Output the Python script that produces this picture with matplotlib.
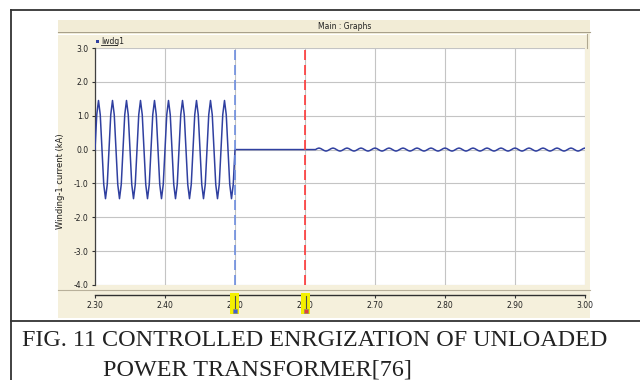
import numpy as np
import matplotlib
matplotlib.use("Agg")
import matplotlib.pyplot as plt
from matplotlib.patches import Rectangle
from matplotlib.lines import Line2D

# ---- data ----
sample_step = 0.0025                     # s between samples
wave_start = 2.30                        # s
wave_cycle = [0.0, 1.03, 1.45, 1.03, 0.0, -1.03, -1.45, -1.03]   # kA, one 50 Hz cycle
wave_cycles = 10
switch_off_time = 2.50                   # blue marker
switch_on_time = 2.60                    # red marker
ripple_start = 2.615
ripple_end = 3.00
ripple_cycle = [0.0, 0.03, 0.045, 0.03, 0.0, -0.03, -0.045, -0.03]  # kA
x_ticks = [2.30, 2.40, 2.50, 2.60, 2.70, 2.80, 2.90, 3.00]
x_labels = ["2.30", "2.40", "2.50", "2.60", "2.70", "2.80", "2.90", "3.00"]
y_ticks = [3.0, 2.0, 1.0, 0.0, -1.0, -2.0, -3.0, -4.0]
y_labels = ["3.0", "2.0", "1.0", "0.0", "-1.0", "-2.0", "-3.0", "-4.0"]
series_name = "Iwdg1"
y_title = "Winding-1 current (kA)"
panel_title = "Main : Graphs"
caption_1 = "FIG. 11 CONTROLLED ENRGIZATION OF UNLOADED"
caption_2 = "POWER TRANSFORMER[76]"

# ---- build series ----
wave_vals = np.tile(wave_cycle, wave_cycles).tolist() + [0.0]
wave_t = wave_start + sample_step * np.arange(len(wave_vals))
n_rip = int(round((ripple_end - ripple_start) / sample_step)) + 1
rip_vals = np.tile(ripple_cycle, n_rip // len(ripple_cycle) + 1)[:n_rip]
rip_t = ripple_start + sample_step * np.arange(n_rip)
t = np.concatenate([wave_t, rip_t])
v = np.concatenate([wave_vals, rip_vals])

W, H = 640, 380
fig = plt.figure(figsize=(W / 100, H / 100), dpi=100)
fig.patch.set_facecolor("white")

def fx(px):
    return px / W

def fy(py):
    return 1 - py / H

panel = "#F5F0DC"
# panel background
fig.patches.append(Rectangle((fx(58), fy(318)), fx(590 - 58), (318 - 20) / H,
                             transform=fig.transFigure, facecolor=panel,
                             edgecolor="none", zorder=-2))
# title bar
fig.patches.append(Rectangle((fx(58), fy(32)), fx(590 - 58), (32 - 20) / H,
                             transform=fig.transFigure, facecolor="#F2ECD6",
                             edgecolor="none", zorder=-1))
fig.lines.append(Line2D([fx(58), fx(590)], [fy(32), fy(32)], transform=fig.transFigure,
                        color="#A8A08A", lw=0.8, zorder=-1))
fig.lines.append(Line2D([fx(58), fx(587)], [fy(34), fy(34)], transform=fig.transFigure,
                        color="white", lw=0.8, zorder=-1))
fig.lines.append(Line2D([fx(587), fx(587)], [fy(34), fy(48)], transform=fig.transFigure,
                        color="#B0A890", lw=0.8, zorder=-1))
fig.lines.append(Line2D([fx(58), fx(590)], [fy(290), fy(290)], transform=fig.transFigure,
                        color="#B8B09A", lw=0.8, zorder=-1))
fig.text(fx(345), fy(26.5), panel_title, fontsize=5.5, ha="center", va="center",
         family=["Liberation Sans Narrow", "DejaVu Sans"], color="#202020")

# outer border and caption divider
fig.lines.append(Line2D([fx(11), fx(11)], [fy(10), 0], transform=fig.transFigure,
                        color="#333333", lw=1.3))
fig.lines.append(Line2D([fx(11), 1], [fy(10), fy(10)], transform=fig.transFigure,
                        color="#333333", lw=1.3))
fig.lines.append(Line2D([fx(11), 1], [fy(320.5), fy(320.5)], transform=fig.transFigure,
                        color="#333333", lw=1.3))

ax = fig.add_axes([fx(95), fy(285), fx(585 - 95), (285 - 48) / H])
ax.set_facecolor("white")
ax.plot(t, v, color="#3040A0", lw=1.1, zorder=3)
ax.axvline(switch_off_time, color="#6E8EE0", lw=1.2, ls=(0, (6, 3)), zorder=4)
ax.axvline(switch_on_time, color="#FF3838", lw=1.2, ls=(0, (6, 3)), zorder=4)

ax.set_xlim(2.30, 3.00)
ax.set_ylim(-4.0, 3.0)
ax.set_xticks(x_ticks)
ax.set_xticklabels(x_labels)
ax.set_yticks(y_ticks)
ax.set_yticklabels(y_labels)
ax.grid(True, color="#C4C4C4", lw=0.8)
ax.set_axisbelow(True)
for s in ["top", "right"]:
    ax.spines[s].set_visible(False)
ax.spines["left"].set_color("#404040")
ax.spines["left"].set_linewidth(0.9)
ax.spines["bottom"].set_position(("outward", 7.2))
ax.spines["bottom"].set_color("#303030")
ax.spines["bottom"].set_linewidth(1.0)
narrow = ["Liberation Sans Narrow", "DejaVu Sans"]
ax.tick_params(axis="both", length=2.5, width=0.8, color="#303030", labelsize=5.5,
               pad=2)
for lab in ax.get_xticklabels() + ax.get_yticklabels():
    lab.set_family(narrow)
    lab.set_color("#202020")
ax.set_ylabel(y_title, fontsize=6, family=narrow, color="#202020")
ax.yaxis.set_label_coords(-0.061, 0.44)

# legend in header band
fig.patches.append(Rectangle((fx(96), fy(43)), fx(3), 3 / H, transform=fig.transFigure,
                             facecolor="#3040A0", edgecolor="none"))
fig.text(fx(101), fy(41), series_name, fontsize=5.5, family=narrow, va="center",
         color="#202020")
fig.lines.append(Line2D([fx(101), fx(117)], [fy(45), fy(45)], transform=fig.transFigure,
                        color="#202020", lw=0.6))

# yellow cursor markers on the x axis
for xm, sq in [(230, "#4060D0"), (301, "#E04040")]:
    fig.patches.append(Rectangle((fx(xm), fy(314)), fx(9), (314 - 293) / H,
                                 transform=fig.transFigure, facecolor="#F4F000",
                                 edgecolor="none", zorder=5))
    fig.lines.append(Line2D([fx(xm + 5), fx(xm + 5)], [fy(296), fy(308)],
                            transform=fig.transFigure, color="#505050", lw=0.8, zorder=6))
    fig.patches.append(Rectangle((fx(xm + 3), fy(313)), fx(4), 4 / H,
                                 transform=fig.transFigure, facecolor=sq,
                                 edgecolor="#808080", lw=0.4, zorder=6))

# caption
serif = ["Liberation Serif", "DejaVu Serif"]
fig.text(fx(22), fy(341), caption_1, fontsize=17.4, family=serif, va="center",
         color="#222222")
fig.text(fx(103), fy(370), caption_2, fontsize=17.4, family=serif, va="center",
         color="#222222")

fig.savefig("out.png", dpi=100)
